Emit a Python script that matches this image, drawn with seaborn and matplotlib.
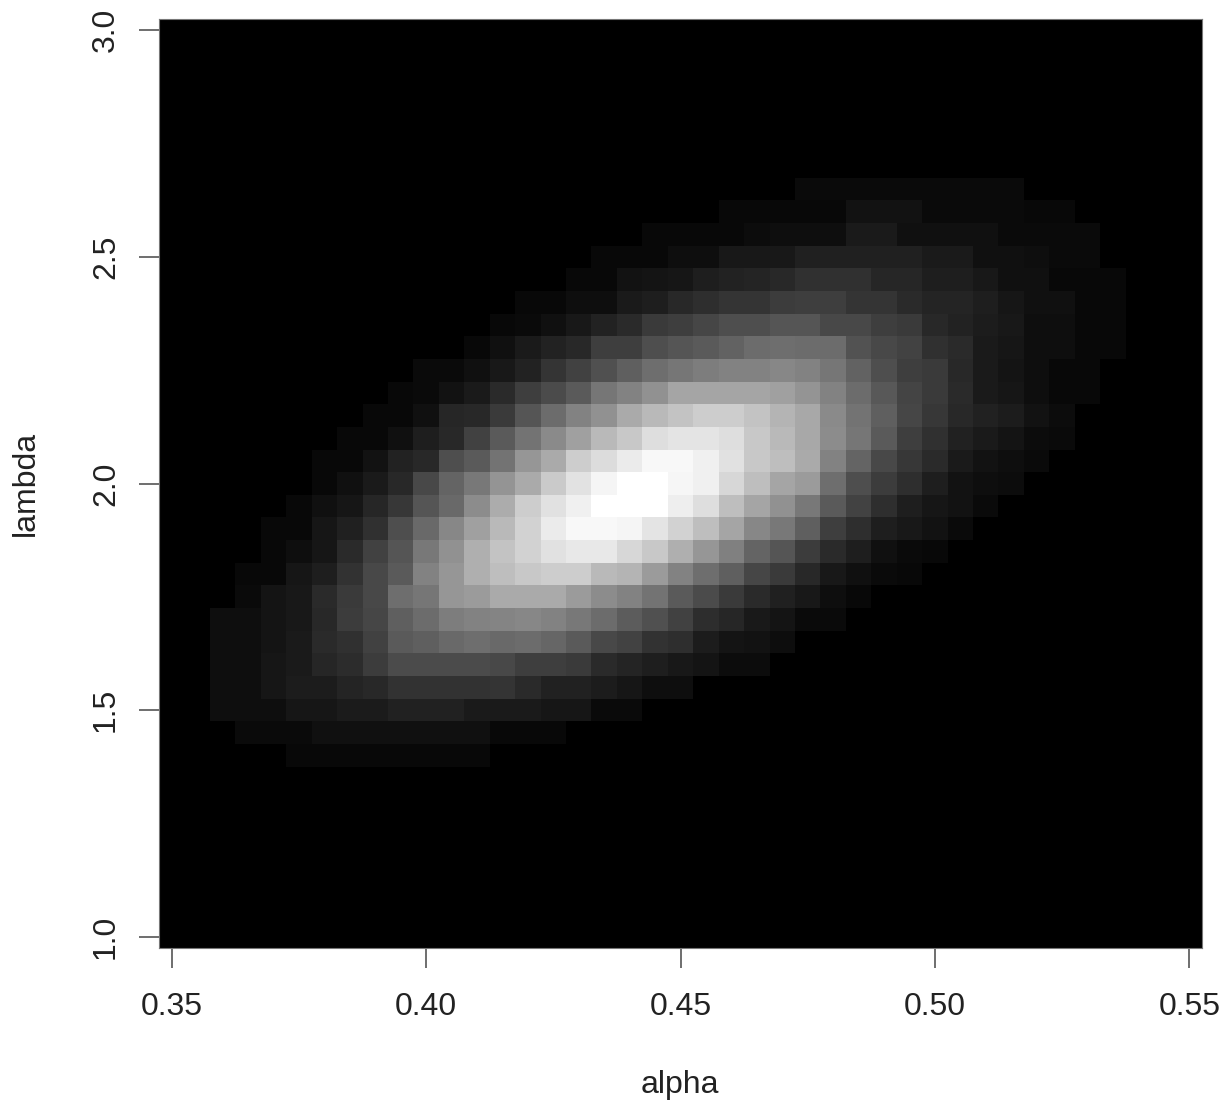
import numpy as np
import pandas as pd
import matplotlib
matplotlib.use("Agg")
import matplotlib.pyplot as plt
import seaborn as sns

# ── Data ──────────────────────────────────────────────────────────────────
alpha_grid = np.round(np.arange(0.35, 0.5501, 0.005), 3)
lambda_grid = np.round(np.arange(1.0, 3.001, 0.05), 2)

alpha_ticks = [0.35, 0.40, 0.45, 0.50, 0.55]
alpha_labels = ["0.35", "0.40", "0.45", "0.50", "0.55"]
lambda_ticks = [1.0, 1.5, 2.0, 2.5, 3.0]
lambda_labels = ["1.0", "1.5", "2.0", "2.5", "3.0"]

# grey level of each non-empty row, keyed by lambda, listed from the first lit alpha
grey_rows = {
    2.65: (0.475, [10, 10, 10, 10, 10, 10, 10, 10, 10]),
    2.60: (0.46, [8, 8, 8, 8, 8, 18, 18, 18, 10, 10, 10, 10, 8, 8]),
    2.55: (0.445, [8, 8, 8, 8, 12, 14, 14, 14, 26, 26, 16, 16, 16, 16, 10, 10, 10, 10]),
    2.50: (0.435, [8, 8, 8, 14, 14, 24, 24, 24, 32, 32, 32, 32, 32, 26, 26, 16, 16, 14, 10, 10]),
    2.45: (0.43, [8, 8, 18, 20, 22, 30, 34, 36, 40, 48, 48, 48, 38, 38, 30, 30, 24, 16, 16, 8, 8, 8]),
    2.40: (0.42, [8, 8, 14, 14, 26, 30, 40, 46, 52, 52, 60, 62, 62, 52, 52, 42, 36, 36, 30, 22, 16, 16, 8, 8]),
    2.35: (0.415, [8, 10, 16, 24, 34, 42, 58, 62, 70, 78, 78, 85, 85, 72, 72, 62, 58, 40, 34, 28, 24, 14, 14, 8, 8]),
    2.30: (0.41, [8, 16, 26, 34, 40, 62, 62, 78, 85, 90, 98, 108, 110, 108, 108, 82, 72, 66, 48, 42, 26, 22, 14, 14, 8, 8]),
    2.25: (0.40, [10, 10, 16, 24, 34, 52, 65, 80, 95, 110, 118, 125, 130, 130, 135, 130, 118, 98, 78, 62, 58, 40, 26, 20, 14, 8, 8]),
    2.20: (0.395, [8, 10, 18, 26, 42, 62, 75, 90, 118, 130, 145, 165, 165, 165, 165, 160, 148, 130, 108, 88, 68, 58, 42, 26, 22, 14, 8, 8]),
    2.15: (0.39, [8, 8, 16, 38, 40, 58, 85, 108, 130, 145, 170, 185, 195, 205, 205, 195, 180, 168, 138, 115, 95, 70, 55, 40, 33, 28, 18, 12]),
    2.10: (0.385, [8, 8, 16, 30, 40, 65, 90, 115, 138, 160, 185, 200, 222, 228, 228, 222, 200, 185, 168, 140, 118, 90, 62, 48, 33, 26, 20, 12, 10]),
    2.05: (0.38, [8, 8, 18, 34, 40, 78, 90, 115, 150, 170, 205, 220, 235, 248, 248, 240, 225, 200, 190, 170, 130, 100, 72, 55, 42, 26, 18, 14, 10]),
    2.00: (0.38, [8, 16, 26, 40, 72, 100, 120, 148, 170, 202, 226, 245, 255, 255, 246, 240, 215, 190, 165, 155, 110, 78, 60, 46, 30, 18, 14, 12]),
    1.95: (0.375, [8, 16, 22, 38, 55, 85, 105, 140, 172, 205, 225, 240, 255, 255, 255, 238, 222, 190, 165, 145, 120, 90, 66, 46, 30, 22, 18, 10]),
    1.90: (0.37, [8, 8, 22, 32, 48, 78, 105, 135, 160, 185, 210, 235, 248, 248, 245, 228, 210, 190, 165, 135, 120, 95, 62, 46, 30, 24, 18, 10]),
    1.85: (0.37, [8, 14, 22, 42, 65, 85, 120, 145, 175, 195, 210, 225, 232, 232, 215, 200, 175, 150, 128, 100, 85, 60, 42, 30, 16, 10, 8]),
    1.80: (0.365, [8, 8, 22, 30, 50, 72, 90, 130, 150, 175, 190, 200, 205, 205, 185, 180, 155, 130, 110, 95, 70, 58, 40, 24, 16, 10, 8]),
    1.75: (0.365, [10, 20, 24, 42, 58, 72, 110, 118, 150, 155, 170, 170, 170, 155, 140, 130, 115, 90, 75, 58, 42, 32, 24, 14, 8]),
    1.70: (0.36, [14, 14, 20, 24, 40, 60, 70, 95, 108, 125, 130, 132, 135, 130, 120, 108, 92, 80, 65, 45, 38, 25, 20, 10, 10]),
    1.65: (0.36, [14, 14, 20, 26, 42, 48, 65, 90, 95, 105, 110, 105, 108, 102, 90, 72, 66, 50, 46, 28, 20, 18, 13]),
    1.60: (0.36, [14, 14, 22, 26, 38, 44, 60, 75, 75, 75, 75, 72, 62, 62, 58, 42, 36, 30, 24, 20, 12, 12]),
    1.55: (0.36, [14, 14, 22, 28, 28, 36, 40, 50, 50, 50, 50, 52, 42, 33, 33, 28, 22, 14, 14]),
    1.50: (0.36, [14, 14, 14, 22, 22, 27, 27, 33, 33, 33, 26, 26, 26, 22, 22, 10, 10]),
    1.45: (0.365, [10, 10, 10, 16, 16, 16, 16, 16, 16, 16, 8, 8, 8]),
    1.40: (0.375, [8, 8, 8, 8, 8, 8, 8, 8]),
}

# ── Table for the heatmap ─────────────────────────────────────────────────
grid = pd.DataFrame(0.0, index=lambda_grid[::-1], columns=alpha_grid)
for lam, (first_alpha, values) in grey_rows.items():
    first = int(np.argmin(np.abs(alpha_grid - first_alpha)))
    grid.loc[lam, alpha_grid[first:first + len(values)]] = values

# ── Plot ──────────────────────────────────────────────────────────────────
sns.set_style("white")
plt.rcParams["font.family"] = ["Liberation Sans", "DejaVu Sans"]

W, H = 1231, 1109
fig = plt.figure(figsize=(W / 100, H / 100), dpi=100)
ax = fig.add_axes([159 / W, 1 - 948 / H, (1202 - 159) / W, (948 - 19) / H])

sns.heatmap(grid, ax=ax, cmap="gray", vmin=0, vmax=255, cbar=False,
            square=False, linewidths=0, rasterized=True)

# heatmap cells sit on 0..n, tick at the centre of the matching cell
x_pos = [int(np.argmin(np.abs(alpha_grid - a))) + 0.5 for a in alpha_ticks]
y_pos = [int(np.argmin(np.abs(lambda_grid[::-1] - l))) + 0.5 for l in lambda_ticks]
ax.set_xticks(x_pos)
ax.set_xticklabels(alpha_labels, rotation=0, fontsize=23, color="#222222")
ax.set_yticks(y_pos)
ax.set_yticklabels(lambda_labels, rotation=90, va="center", fontsize=23, color="#222222")
ax.tick_params(axis="x", length=14.4, width=1.2, color="#555555", pad=17.5, bottom=True)
ax.tick_params(axis="y", length=14.4, width=1.2, color="#555555", pad=13, left=True)

for spine in ax.spines.values():
    spine.set_visible(True)
    spine.set_color("#777777")
    spine.set_linewidth(0.8)

ax.set_xlabel("alpha", fontsize=23, color="#222222")
ax.set_ylabel("lambda", fontsize=23, color="#222222")
ax.xaxis.set_label_coords((680 - 159) / (1202 - 159), -(1085 - 948) / (948 - 19), transform=ax.transAxes)
ax.xaxis.label.set_va("center")
ax.yaxis.set_label_coords(-(159 - 26) / (1202 - 159), (948 - 483) / (948 - 19), transform=ax.transAxes)
ax.yaxis.label.set_va("center")

fig.savefig("out.png", dpi=100)
